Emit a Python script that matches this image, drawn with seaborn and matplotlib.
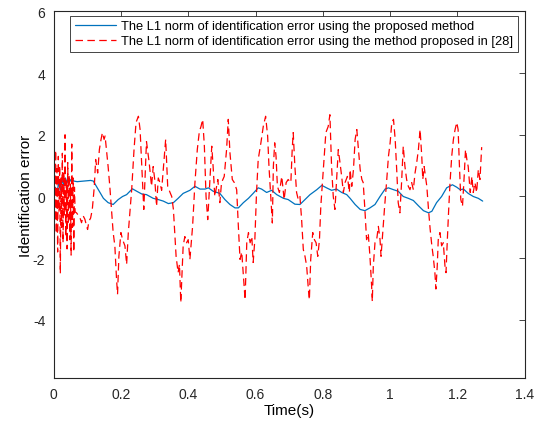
import numpy as np
import pandas as pd
import matplotlib
matplotlib.use("Agg")
import matplotlib.pyplot as plt
import seaborn as sns

# Blue series: proposed method
t_prop = [0.000, 0.005, 0.010, 0.015, 0.020, 0.025, 0.030, 0.035, 0.040, 0.045,
          0.050, 0.055, 0.060, 0.070, 0.090, 0.110, 0.118, 0.133, 0.148, 0.162,
          0.177, 0.192, 0.205, 0.217, 0.234, 0.247, 0.262, 0.276, 0.296, 0.311,
          0.326, 0.341, 0.356, 0.370, 0.385, 0.405, 0.420, 0.435, 0.450, 0.460,
          0.474, 0.494, 0.509, 0.524, 0.539, 0.549, 0.564, 0.579, 0.593, 0.608,
          0.618, 0.633, 0.648, 0.663, 0.683, 0.697, 0.717, 0.732, 0.747, 0.762,
          0.782, 0.797, 0.811, 0.826, 0.841, 0.856, 0.871, 0.881, 0.896, 0.911,
          0.925, 0.940, 0.955, 0.970, 0.985, 0.995, 1.010, 1.024, 1.039, 1.054,
          1.069, 1.084, 1.099, 1.114, 1.124, 1.138, 1.153, 1.168, 1.185, 1.198,
          1.208, 1.218, 1.232, 1.247, 1.262, 1.275]
e_prop = [0.00, 0.30, 0.10, 0.45, 0.20, 0.55, 0.35, 0.60, 0.45, 0.62,
          0.50, 0.60, 0.50, 0.48, 0.50, 0.52, 0.50, 0.22, -0.06, -0.20,
          -0.26, -0.10, 0.00, 0.06, 0.25, 0.17, 0.08, 0.06, -0.06, -0.10,
          -0.15, -0.23, -0.20, -0.06, 0.10, 0.20, 0.33, 0.24, 0.24, 0.28,
          0.17, 0.10, -0.10, -0.26, -0.37, -0.37, -0.20, -0.06, 0.10, 0.28,
          0.24, 0.13, 0.20, 0.06, -0.06, -0.10, -0.25, -0.26, -0.10, 0.06,
          0.22, 0.36, 0.28, 0.20, 0.24, 0.13, 0.06, -0.06, -0.26, -0.42,
          -0.46, -0.37, -0.26, 0.00, 0.24, 0.28, 0.22, 0.17, 0.00, -0.06,
          -0.13, -0.30, -0.46, -0.53, -0.48, -0.20, 0.00, 0.28, 0.38, 0.30,
          0.22, 0.24, 0.10, 0.00, -0.06, -0.15]

# Red series: method proposed in [28]
t_ref = [0.000, 0.002, 0.004, 0.006, 0.008, 0.010, 0.012, 0.014, 0.016, 0.018,
         0.020, 0.022, 0.024, 0.026, 0.028, 0.030, 0.032, 0.034, 0.036, 0.038,
         0.040, 0.042, 0.044, 0.046, 0.048, 0.050, 0.052, 0.054, 0.056, 0.058,
         0.060, 0.062, 0.064, 0.068, 0.078, 0.083, 0.088, 0.093, 0.098, 0.101,
         0.105, 0.110, 0.115, 0.121, 0.125, 0.131, 0.136, 0.141, 0.145, 0.150,
         0.153, 0.158, 0.162, 0.167, 0.172, 0.177, 0.182, 0.187, 0.190, 0.194,
         0.200, 0.205, 0.212, 0.217, 0.222, 0.232, 0.239, 0.245, 0.252, 0.257,
         0.262, 0.268, 0.276, 0.284, 0.291, 0.296, 0.301, 0.306, 0.311, 0.316,
         0.321, 0.326, 0.333, 0.339, 0.346, 0.351, 0.356, 0.364, 0.370, 0.374,
         0.378, 0.385, 0.390, 0.395, 0.400, 0.405, 0.413, 0.420, 0.427, 0.433,
         0.438, 0.443, 0.448, 0.453, 0.458, 0.465, 0.470, 0.474, 0.479, 0.488,
         0.494, 0.499, 0.507, 0.514, 0.519, 0.524, 0.531, 0.537, 0.544, 0.549,
         0.554, 0.559, 0.564, 0.569, 0.574, 0.579, 0.584, 0.589, 0.593, 0.598,
         0.603, 0.608, 0.616, 0.623, 0.630, 0.636, 0.640, 0.646, 0.650, 0.653,
         0.657, 0.661, 0.665, 0.671, 0.678, 0.685, 0.691, 0.697, 0.705, 0.709,
         0.712, 0.717, 0.722, 0.727, 0.732, 0.737, 0.742, 0.747, 0.752, 0.757,
         0.760, 0.764, 0.770, 0.775, 0.780, 0.785, 0.790, 0.794, 0.800, 0.804,
         0.809, 0.816, 0.821, 0.826, 0.831, 0.836, 0.841, 0.846, 0.851, 0.856,
         0.861, 0.866, 0.873, 0.879, 0.881, 0.886, 0.891, 0.896, 0.901, 0.905,
         0.911, 0.916, 0.920, 0.925, 0.930, 0.935, 0.940, 0.945, 0.947, 0.950,
         0.955, 0.960, 0.965, 0.970, 0.973, 0.978, 0.983, 0.990, 0.995, 1.000,
         1.005, 1.010, 1.015, 1.020, 1.024, 1.029, 1.034, 1.039, 1.044, 1.049,
         1.054, 1.059, 1.064, 1.069, 1.074, 1.079, 1.084, 1.089, 1.094, 1.097,
         1.101, 1.105, 1.109, 1.114, 1.119, 1.124, 1.128, 1.133, 1.136, 1.140,
         1.143, 1.148, 1.153, 1.158, 1.163, 1.166, 1.170, 1.174, 1.178, 1.183,
         1.188, 1.193, 1.198, 1.202, 1.206, 1.210, 1.215, 1.220, 1.224, 1.228,
         1.232, 1.238, 1.243, 1.247, 1.252, 1.257, 1.262, 1.267, 1.272]
e_ref = [0.20, 1.20, -0.80, 1.50, -1.20, 0.90, -1.80, 1.30, -0.50, 1.00,
         -2.50, 0.60, -1.00, 1.40, -1.50, 0.80, -0.60, 2.00, -1.30, 0.50,
         -1.70, 1.10, -0.90, 0.70, -1.40, 0.40, -1.90, 1.70, -1.00, 0.60,
         -1.80, 0.30, -0.50, -0.53, -0.68, -0.85, -0.63, -0.74, -0.96, -1.07,
         -0.80, -0.70, -0.42, 0.33, 1.20, 0.76, 1.52, 1.85, 2.07, 1.85,
         1.96, 1.42, 0.97, 0.33, -0.42, -1.17, -1.60, -2.68, -3.17, -1.94,
         -1.17, -1.40, -1.60, -2.20, -1.17, 0.22, 1.52, 2.40, 2.60, 2.17,
         0.97, -0.42, 1.78, 1.10, 0.33, 0.97, 0.50, -0.32, 0.60, 0.45,
         0.20, 0.87, 1.85, 0.33, 0.13, 0.00, -0.42, -1.94, -2.47, -2.20,
         -3.44, -1.60, -1.30, -1.50, -1.40, -2.04, -0.97, 0.45, 1.52, 2.10,
         2.27, 2.50, 1.63, 0.00, -0.75, 0.65, 1.63, 0.97, 0.00, 0.55,
         -0.20, 0.45, 0.65, 1.52, 2.50, 1.42, 0.55, 0.45, 0.22, -0.97,
         -2.04, -1.80, -2.58, -3.35, -1.50, -1.17, -1.50, -1.30, -2.14, -1.40,
         0.13, 1.20, 1.74, 2.27, 2.60, 1.96, 0.97, -0.10, -0.86, 0.97,
         1.74, 1.30, 0.33, 0.13, 0.65, -0.10, 0.45, 0.55, 0.45, 1.52,
         2.07, 0.97, 0.13, -0.10, 0.00, -0.75, -1.72, -1.94, -2.26, -3.00,
         -3.35, -2.04, -1.17, -1.40, -1.50, -1.94, -1.40, -0.32, 0.65, 1.30,
         2.07, 2.27, 2.65, 0.97, 0.00, -0.42, 0.55, 1.52, 1.10, 0.65,
         0.13, 0.45, 0.65, 0.13, 0.87, 0.33, 0.87, 1.85, 2.17, 1.63,
         0.87, 0.55, 0.45, -0.42, -1.40, -1.20, -1.94, -2.90, -3.40, -2.26,
         -1.50, -1.40, -0.97, -1.40, -1.94, -1.17, -0.42, 0.55, 1.30, 1.74,
         2.40, 2.50, 1.85, 0.76, -0.20, -0.53, 0.45, 1.63, 0.97, 0.55,
         0.33, 0.22, 0.45, 0.22, 0.76, 1.10, 1.52, 2.17, 1.30, 0.55,
         0.97, 0.65, 0.33, -0.42, -1.07, -1.60, -1.94, -2.47, -3.00, -2.26,
         -1.40, -1.17, -1.60, -1.50, -2.26, -2.47, -1.40, -0.42, 0.45, 1.30,
         1.85, 2.17, 2.40, 2.17, 0.97, -0.10, -0.32, 0.65, 1.52, 1.20,
         0.97, 0.13, 0.65, 0.13, 0.45, 0.13, 0.87, 0.55, 1.60]

label_prop = "The L1 norm of identification error using the proposed method"
label_ref = "The L1 norm of identification error using the method proposed in [28]"
x_ticks = [0, 0.2, 0.4, 0.6, 0.8, 1, 1.2, 1.4]
x_tick_labels = ["0", "0.2", "0.4", "0.6", "0.8", "1", "1.2", "1.4"]
y_ticks = [-4, -2, 0, 2, 4, 6]
y_tick_labels = ["-4", "-2", "0", "2", "4", "6"]

sns.set_style("white")
plt.rcParams["font.family"] = ["Liberation Sans", "DejaVu Sans"]

ax_color = "#262626"
fig = plt.figure(figsize=(5.36, 4.27), dpi=100)
ax = fig.add_axes([0.100, 0.112, 0.879, 0.859])

df_prop = pd.DataFrame({"t": t_prop, "e": e_prop})
df_ref = pd.DataFrame({"t": t_ref, "e": e_ref})

sns.lineplot(data=df_prop, x="t", y="e", ax=ax, color="#0072BD", lw=0.9,
             estimator=None, sort=False, label=label_prop)
sns.lineplot(data=df_ref, x="t", y="e", ax=ax, color="#FF0000", lw=0.9,
             estimator=None, sort=False, label=label_ref, dashes=False)
ax.lines[1].set_dashes((6, 3.5))

ax.set_xlim(0, 1.4)
ax.set_ylim(-5.89, 6)
ax.set_xticks(x_ticks)
ax.set_xticklabels(x_tick_labels)
ax.set_yticks(y_ticks)
ax.set_yticklabels(y_tick_labels)
ax.set_xlabel("Time(s)", fontsize=11, color="black", labelpad=2)
ax.set_ylabel("Identification error", fontsize=11, color="black", labelpad=0)

for sp in ax.spines.values():
    sp.set_visible(True)
    sp.set_color(ax_color)
    sp.set_linewidth(0.8)
ax.tick_params(axis="both", which="both", direction="in", length=4, width=0.6,
               colors=ax_color, labelsize=10, top=True, right=True,
               labelcolor=ax_color, pad=6)

leg = ax.legend(loc="upper right", bbox_to_anchor=(0.9857, 0.9877), borderaxespad=0,
                fontsize=9.3, frameon=True, fancybox=False, edgecolor=ax_color,
                framealpha=1, handlelength=3.2, handletextpad=0.4,
                labelspacing=0.2, borderpad=0.35)
leg.get_frame().set_linewidth(0.6)
for line in leg.get_lines():
    line.set_linewidth(0.9)
leg.get_lines()[1].set_dashes((6, 3.5))
for txt in leg.get_texts():
    txt.set_color("black")

fig.savefig("out.png", dpi=100)
